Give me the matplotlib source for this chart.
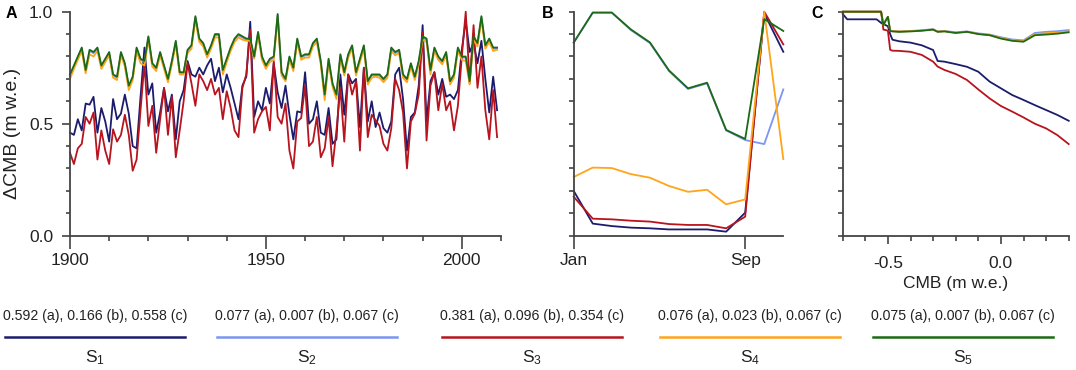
import matplotlib
matplotlib.use("Agg")
import matplotlib.pyplot as plt
from matplotlib.lines import Line2D

plt.rcParams['font.family'] = ['Liberation Sans', 'DejaVu Sans']
plt.rcParams['mathtext.fontset'] = 'custom'
plt.rcParams['mathtext.rm'] = 'Liberation Sans'
plt.rcParams['mathtext.it'] = 'Liberation Sans:italic'
plt.rcParams['axes.unicode_minus'] = False

# -----------------------------
# DATA
# -----------------------------
years = list(range(1900, 2010))

a_s1 = [0.46, 0.45, 0.52, 0.47, 0.59, 0.585, 0.62, 0.46, 0.57, 0.51,
        0.42, 0.61, 0.52, 0.545, 0.63, 0.545, 0.40, 0.39, 0.62, 0.84,
        0.63, 0.68, 0.46, 0.55, 0.66, 0.555, 0.63, 0.43, 0.60, 0.65,
        0.78, 0.72, 0.71, 0.75, 0.72, 0.76, 0.79, 0.69, 0.75, 0.64,
        0.72, 0.66, 0.59, 0.52, 0.67, 0.71, 0.955, 0.53, 0.60, 0.56,
        0.66, 0.59, 0.77, 0.64, 0.57, 0.67, 0.54, 0.43, 0.555, 0.55,
        0.73, 0.50, 0.52, 0.60, 0.46, 0.45, 0.57, 0.41, 0.43, 0.72,
        0.54, 0.72, 0.68, 0.70, 0.485, 0.75, 0.51, 0.60, 0.485, 0.55,
        0.48, 0.46, 0.51, 0.72, 0.75, 0.61, 0.38, 0.53, 0.55, 0.67,
        0.94, 0.51, 0.69, 0.73, 0.63, 0.70, 0.62, 0.63, 0.61, 0.65,
        0.83, 0.96, 0.82, 0.86, 0.77, 0.87, 0.70, 0.55, 0.71, 0.56]

a_s2 = [0.715, 0.755, 0.795, 0.835, 0.735, 0.825, 0.815, 0.835, 0.755, 0.785,
        0.815, 0.715, 0.705, 0.815, 0.765, 0.665, 0.705, 0.835, 0.785, 0.775,
        0.885, 0.765, 0.745, 0.815, 0.755, 0.695, 0.775, 0.865, 0.725, 0.725,
        0.825, 0.845, 0.975, 0.875, 0.855, 0.805, 0.845, 0.895, 0.895, 0.735,
        0.785, 0.835, 0.875, 0.895, 0.885, 0.875, 0.875, 0.795, 0.905, 0.795,
        0.755, 0.785, 0.795, 0.985, 0.725, 0.695, 0.795, 0.745, 0.875, 0.795,
        0.805, 0.805, 0.855, 0.875, 0.775, 0.625, 0.785, 0.675, 0.625, 0.805,
        0.725, 0.805, 0.845, 0.725, 0.785, 0.845, 0.685, 0.715, 0.715, 0.715,
        0.695, 0.715, 0.835, 0.815, 0.825, 0.715, 0.695, 0.765, 0.705, 0.775,
        0.885, 0.875, 0.735, 0.835, 0.795, 0.775, 0.815, 0.685, 0.715, 0.835,
        0.795, 0.795, 0.685, 0.885, 0.855, 0.975, 0.845, 0.875, 0.835, 0.835]

a_s3 = [0.37, 0.32, 0.39, 0.41, 0.53, 0.50, 0.55, 0.34, 0.47, 0.38,
        0.32, 0.475, 0.42, 0.45, 0.54, 0.45, 0.29, 0.34, 0.56, 0.77,
        0.49, 0.58, 0.37, 0.52, 0.66, 0.45, 0.62, 0.35, 0.47, 0.60,
        0.77, 0.68, 0.58, 0.72, 0.69, 0.65, 0.70, 0.63, 0.66, 0.52,
        0.645, 0.57, 0.47, 0.44, 0.66, 0.72, 0.92, 0.46, 0.52, 0.555,
        0.575, 0.47, 0.78, 0.53, 0.50, 0.59, 0.38, 0.30, 0.51, 0.525,
        0.67, 0.40, 0.42, 0.53, 0.35, 0.39, 0.53, 0.31, 0.47, 0.66,
        0.42, 0.72, 0.63, 0.69, 0.38, 0.75, 0.44, 0.54, 0.515, 0.49,
        0.41, 0.38, 0.48, 0.70, 0.65, 0.55, 0.30, 0.51, 0.545, 0.63,
        0.91, 0.425, 0.67, 0.73, 0.56, 0.68, 0.56, 0.60, 0.47, 0.58,
        0.80, 1.00, 0.68, 0.94, 0.66, 0.80, 0.56, 0.43, 0.65, 0.44]

a_s4 = [0.70, 0.745, 0.785, 0.825, 0.725, 0.81, 0.80, 0.825, 0.745, 0.775,
        0.805, 0.705, 0.695, 0.805, 0.755, 0.65, 0.695, 0.825, 0.77, 0.76,
        0.875, 0.755, 0.735, 0.805, 0.745, 0.685, 0.765, 0.855, 0.72, 0.72,
        0.815, 0.835, 0.965, 0.865, 0.845, 0.795, 0.835, 0.885, 0.885, 0.72,
        0.775, 0.825, 0.865, 0.885, 0.875, 0.87, 0.87, 0.79, 0.895, 0.785,
        0.745, 0.775, 0.785, 0.975, 0.715, 0.69, 0.785, 0.735, 0.865, 0.785,
        0.795, 0.795, 0.845, 0.865, 0.765, 0.605, 0.775, 0.665, 0.61, 0.795,
        0.715, 0.795, 0.835, 0.715, 0.775, 0.835, 0.675, 0.705, 0.71, 0.705,
        0.685, 0.705, 0.825, 0.805, 0.815, 0.705, 0.685, 0.755, 0.695, 0.765,
        0.875, 0.865, 0.72, 0.825, 0.785, 0.765, 0.805, 0.675, 0.705, 0.825,
        0.785, 0.78, 0.675, 0.875, 0.845, 0.965, 0.835, 0.865, 0.825, 0.83]

a_s5 = [0.72, 0.76, 0.80, 0.84, 0.74, 0.83, 0.82, 0.84, 0.76, 0.79,
        0.82, 0.72, 0.71, 0.82, 0.77, 0.67, 0.71, 0.84, 0.79, 0.78,
        0.89, 0.77, 0.75, 0.82, 0.76, 0.70, 0.78, 0.87, 0.73, 0.73,
        0.83, 0.85, 0.98, 0.88, 0.86, 0.81, 0.85, 0.90, 0.90, 0.74,
        0.79, 0.84, 0.88, 0.90, 0.89, 0.88, 0.88, 0.80, 0.91, 0.80,
        0.76, 0.79, 0.80, 0.99, 0.73, 0.70, 0.80, 0.75, 0.88, 0.80,
        0.81, 0.81, 0.86, 0.88, 0.78, 0.63, 0.79, 0.68, 0.63, 0.81,
        0.73, 0.81, 0.85, 0.73, 0.79, 0.85, 0.69, 0.72, 0.72, 0.72,
        0.70, 0.72, 0.84, 0.82, 0.83, 0.72, 0.70, 0.77, 0.71, 0.78,
        0.89, 0.88, 0.74, 0.84, 0.80, 0.78, 0.82, 0.69, 0.72, 0.84,
        0.80, 0.80, 0.69, 0.89, 0.86, 0.98, 0.85, 0.88, 0.84, 0.84]

# panel B: day of year, samples every 27 days
b_days = [0, 27, 54, 81, 108, 135, 162, 189, 216, 243, 270, 297]
b_s1 = [0.200, 0.054, 0.043, 0.036, 0.033, 0.028, 0.028, 0.028, 0.018, 0.103, 0.993, 0.821]
b_s2 = [0.862, 0.996, 0.996, 0.918, 0.860, 0.735, 0.655, 0.680, 0.470, 0.427, 0.409, 0.653]
b_s3 = [0.174, 0.076, 0.073, 0.067, 0.063, 0.052, 0.048, 0.048, 0.033, 0.085, 1.000, 0.854]
b_s4 = [0.262, 0.304, 0.302, 0.275, 0.259, 0.222, 0.196, 0.205, 0.140, 0.162, 1.000, 0.342]
b_s5 = [0.862, 0.996, 0.996, 0.921, 0.863, 0.738, 0.658, 0.683, 0.472, 0.432, 0.967, 0.914]
b_ticks = [0, 243]
b_ticklabels = ['Jan', 'Sep']

# panel C: cumulative response vs CMB
c_x = [-0.70, -0.68, -0.55, -0.53, -0.52, -0.51, -0.50, -0.49, -0.48, -0.45,
       -0.40, -0.35, -0.30, -0.28, -0.25, -0.20, -0.15, -0.10, -0.05, 0.00,
       0.05, 0.10, 0.15, 0.20, 0.25, 0.30]
c_s1 = [0.99, 0.966, 0.966, 0.950, 0.945, 0.940, 0.935, 0.900, 0.875, 0.868,
        0.862, 0.850, 0.829, 0.780, 0.777, 0.766, 0.754, 0.732, 0.688, 0.658,
        0.628, 0.606, 0.583, 0.561, 0.539, 0.513]
c_s2 = [1.0, 1.0, 1.0, 1.0, 0.940, 0.960, 0.977, 0.916, 0.914, 0.912,
        0.914, 0.917, 0.922, 0.912, 0.914, 0.908, 0.912, 0.903, 0.898, 0.886,
        0.876, 0.872, 0.905, 0.910, 0.913, 0.918]
c_s3 = [1.0, 1.0, 1.0, 1.0, 0.920, 0.918, 0.915, 0.830, 0.826, 0.825,
        0.821, 0.807, 0.777, 0.755, 0.740, 0.722, 0.695, 0.653, 0.613, 0.579,
        0.554, 0.528, 0.500, 0.479, 0.449, 0.409]
c_s4 = [1.0, 1.0, 1.0, 1.0, 0.940, 0.960, 0.977, 0.915, 0.913, 0.912,
        0.913, 0.916, 0.921, 0.911, 0.913, 0.906, 0.911, 0.901, 0.896, 0.883,
        0.872, 0.868, 0.900, 0.904, 0.907, 0.912]
c_s5 = [1.0, 1.0, 1.0, 1.0, 0.940, 0.960, 0.977, 0.914, 0.912, 0.910,
        0.912, 0.915, 0.920, 0.910, 0.912, 0.905, 0.910, 0.900, 0.895, 0.880,
        0.870, 0.866, 0.895, 0.898, 0.902, 0.908]

series_names = ['S1', 'S2', 'S3', 'S4', 'S5']
series_text = ['0.592 (a), 0.166 (b), 0.558 (c)',
               '0.077 (a), 0.007 (b), 0.067 (c)',
               '0.381 (a), 0.096 (b), 0.354 (c)',
               '0.076 (a), 0.023 (b), 0.067 (c)',
               '0.075 (a), 0.007 (b), 0.067 (c)']

# -----------------------------
# STYLE
# -----------------------------
COLORS = ['#1c1c6e', '#7b95f2', '#b8141e', '#ffa51a', '#1d6a14']
SPINE = '#444444'
TXT = '#222222'
W, H = 1076, 370
LW = 1.3
PX = 72 / 100  # points per pixel


def style_axis(ax, xmaj, xpad, ymaj, ymin, ypad):
    for s in ['top', 'right']:
        ax.spines[s].set_visible(False)
    for s in ['left', 'bottom']:
        ax.spines[s].set_color(SPINE)
        ax.spines[s].set_linewidth(1.3)
    ax.tick_params(which='both', direction='out', color=SPINE, width=1.2,
                   labelsize=12.5, labelcolor=TXT)
    ax.tick_params(axis='x', which='major', length=xmaj * PX, pad=xpad)
    ax.tick_params(axis='x', which='minor', length=5 * PX)
    ax.tick_params(axis='y', which='major', length=ymaj * PX, pad=ypad)
    ax.tick_params(axis='y', which='minor', length=ymin * PX)
    ax.set_ylim(0, 1)
    ax.set_yticks([0.1 * i for i in range(11)], minor=True)


def ax_rect(x0, x1, y_top, y_bot):
    return [x0 / W, 1 - y_bot / H, (x1 - x0) / W, (y_bot - y_top) / H]


fig = plt.figure(figsize=(W / 100, H / 100), dpi=100)

axA = fig.add_axes(ax_rect(70.0, 501.0, 11.7, 235.7))
axB = fig.add_axes(ax_rect(573.7, 783.3, 11.7, 235.7))
axC = fig.add_axes(ax_rect(842.7, 1068.7, 11.7, 235.7))

# panel A
for vals, col in zip([a_s1, a_s2, a_s3, a_s4, a_s5], COLORS):
    axA.plot(years, vals, color=col, lw=LW, clip_on=False)
style_axis(axA, 12.5, 3.5, 8, 4, 6.3)
axA.set_xlim(1900, 2010)
axA.set_xticks([1900, 1950, 2000])
axA.set_xticks(list(range(1910, 2011, 10)), minor=True)
axA.set_yticks([0.0, 0.5, 1.0])
axA.set_yticklabels(['0.0', '0.5', '1.0'])
axA.set_ylabel('ΔCMB (m w.e.)', fontsize=14, color=TXT)
axA.yaxis.set_label_coords(-0.114, 0.455)

# panel B
for vals, col in zip([b_s1, b_s2, b_s3, b_s4, b_s5], COLORS):
    axB.plot(b_days, vals, color=col, lw=LW, clip_on=False)
style_axis(axB, 12.5, 3.5, 5, 5, 4)
axB.set_xlim(b_days[0], b_days[-1])
axB.set_xticks(b_ticks)
axB.set_xticklabels(b_ticklabels)
axB.set_yticks([0.1 * i for i in range(11)])
axB.set_yticklabels([])

# panel C
for vals, col in zip([c_s1, c_s2, c_s3, c_s4, c_s5], COLORS):
    axC.plot(c_x, vals, color=col, lw=LW, clip_on=False)
style_axis(axC, 8, 8.5, 5, 5, 4)
axC.set_xlim(-0.7, 0.3)
axC.set_xticks([-0.5, 0.0])
axC.set_xticklabels(['-0.5', '0.0'])
axC.set_xticks([-0.7 + 0.1 * i for i in range(11)], minor=True)
axC.set_yticks([0.1 * i for i in range(11)])
axC.set_yticklabels([])
axC.set_xlabel('CMB (m w.e.)', fontsize=12.5, color=TXT, labelpad=4)

# panel letters
for lx, letter in [(6, 'A'), (542, 'B'), (811, 'C')]:
    fig.text(lx / W, 1 - 13 / H, letter, fontsize=11.5, fontweight='bold',
             va='center', ha='left')

# legend row
centers = [95, 307, 532, 750, 963]
half = 90
for cx, txt, name, col in zip(centers, series_text, series_names, COLORS):
    fig.text(cx / W, 1 - 316 / H, txt, fontsize=10.2, ha='center', va='center',
             color=TXT)
    fig.add_artist(Line2D([(cx - half) / W, (cx + half) / W],
                          [1 - 337 / H, 1 - 337 / H],
                          transform=fig.transFigure, color=col, lw=1.8))
    fig.text(cx / W, 1 - 358 / H, r'$\mathrm{S}_{\mathrm{%s}}$' % name[1:],
             fontsize=12.5, ha='center', va='center', color=TXT)

fig.savefig('out.png', dpi=100)
